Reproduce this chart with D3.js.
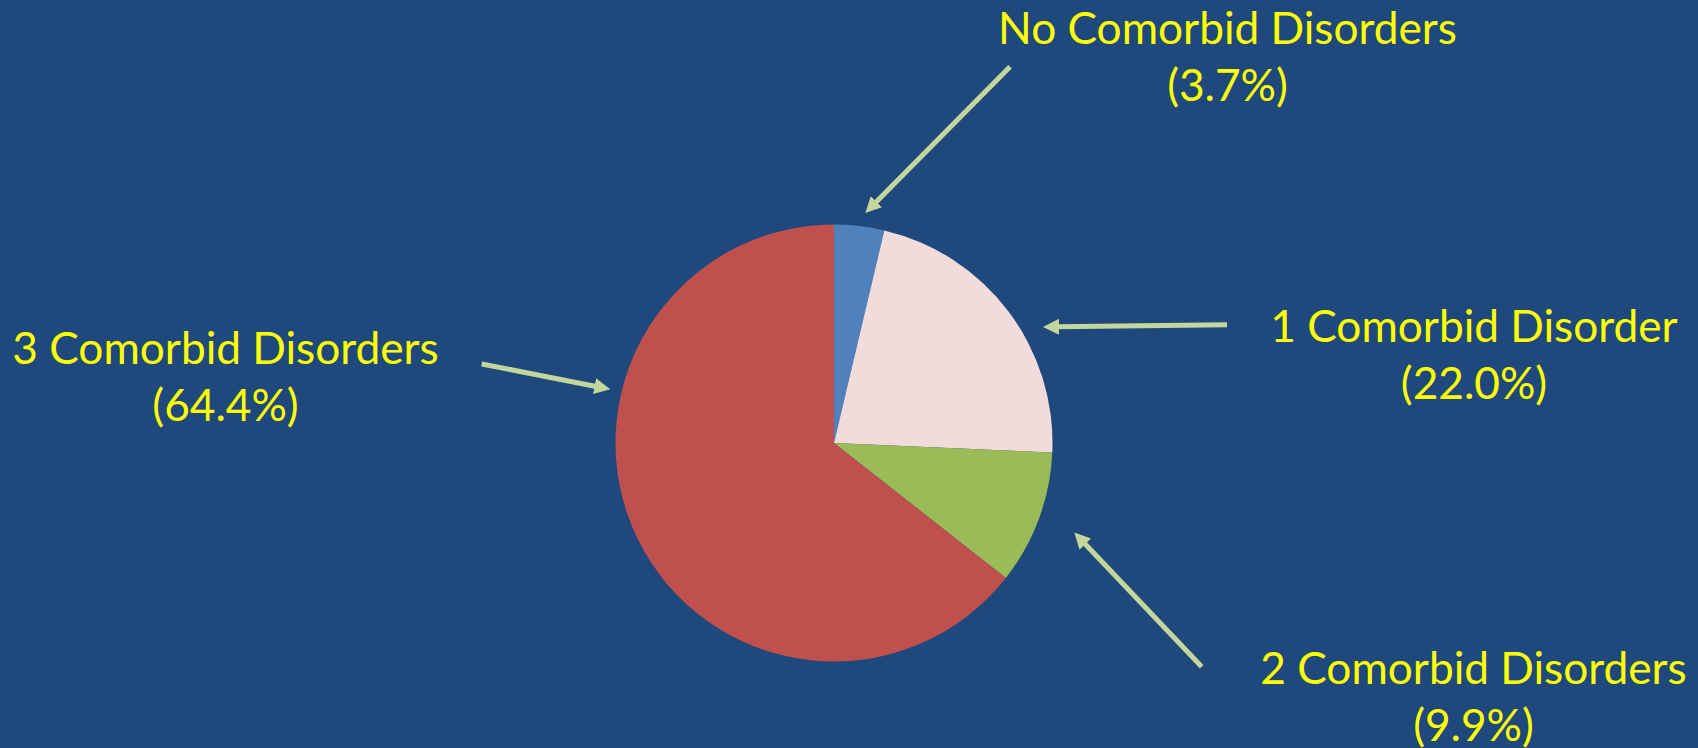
<!DOCTYPE html>
<html>
<head>
<meta charset="utf-8">
<script src="https://cdn.jsdelivr.net/npm/d3@7"></script>
<style>
  html, body { margin: 0; padding: 0; background: #1F497D; overflow: hidden; }
  svg { display: block; }
  text { font-family: Lato, "Open Sans", sans-serif; fill: #FFFF00; }
</style>
</head>
<body>
<svg id="chart" width="1698" height="748"></svg>
<script>
// ---- data ----
const categories = ["No Comorbid Disorders", "1 Comorbid Disorder", "2 Comorbid Disorders", "3 Comorbid Disorders"];
const values = [3.7, 22.0, 9.9, 64.4];
const valueLabels = ["(3.7%)", "(22.0%)", "(9.9%)", "(64.4%)"];
const colors = ["#4F81BD", "#F2DCDB", "#9BBB59", "#C0504D"];

// ---- layout ----
const W = 1698, H = 748;
const cx = 834, cy = 443, R = 218.5;
const fontSize = 44.2;
const lineGap = 57;
// label anchor (center x, first-line baseline y)
const labelPos = [
  { x: 1227.5, y: 43.5 },
  { x: 1474, y: 341.5 },
  { x: 1473.5, y: 683.5 },
  { x: 225.5, y: 364 }
];
// arrows: start -> tip
const arrows = [
  { x1: 1010, y1: 66.7, x2: 866, y2: 212.3 },
  { x1: 1227, y1: 324.7, x2: 1044, y2: 327 },
  { x1: 1201.7, y1: 666.7, x2: 1075, y2: 533.3 },
  { x1: 481.7, y1: 364, x2: 609.3, y2: 389 }
];

const svg = d3.select("#chart");
svg.append("rect").attr("width", W).attr("height", H).attr("fill", "#1F497D");

const pie = d3.pie().sort(null).value(d => d)(values);
const arc = d3.arc().innerRadius(0).outerRadius(R);

svg.append("g")
  .attr("transform", `translate(${cx},${cy})`)
  .selectAll("path")
  .data(pie)
  .join("path")
  .attr("d", arc)
  .attr("fill", (d, i) => colors[i]);

// arrowhead marker
const defs = svg.append("defs");
defs.append("marker")
  .attr("id", "head")
  .attr("markerUnits", "userSpaceOnUse")
  .attr("viewBox", "0 0 16 16")
  .attr("refX", 15).attr("refY", 8)
  .attr("markerWidth", 16).attr("markerHeight", 16)
  .attr("orient", "auto")
  .append("path")
  .attr("d", "M0,0 L16,8 L0,16 Z")
  .attr("fill", "#C3D69B");

const arrowColor = "#C3D69B";
arrows.forEach(a => {
  const dx = a.x2 - a.x1, dy = a.y2 - a.y1;
  const len = Math.hypot(dx, dy);
  const ex = a.x2 - dx / len * 12, ey = a.y2 - dy / len * 12;
  svg.append("line")
    .attr("x1", a.x1).attr("y1", a.y1)
    .attr("x2", ex).attr("y2", ey)
    .attr("stroke", arrowColor)
    .attr("stroke-width", 5);
  svg.append("path")
    .attr("d", `M${ex},${ey}L${a.x2},${a.y2}`)
    .attr("stroke", "none")
    .attr("fill", "none")
    .attr("marker-end", "url(#head)");
});

// labels
const lg = svg.append("g");
categories.forEach((c, i) => {
  const t = lg.append("text")
    .attr("x", labelPos[i].x)
    .attr("y", labelPos[i].y)
    .attr("text-anchor", "middle")
    .attr("font-size", fontSize);
  t.append("tspan").attr("x", labelPos[i].x).attr("y", labelPos[i].y).text(c);
  t.append("tspan").attr("x", labelPos[i].x).attr("y", labelPos[i].y + lineGap).text(valueLabels[i]);
});
</script>
</body>
</html>
